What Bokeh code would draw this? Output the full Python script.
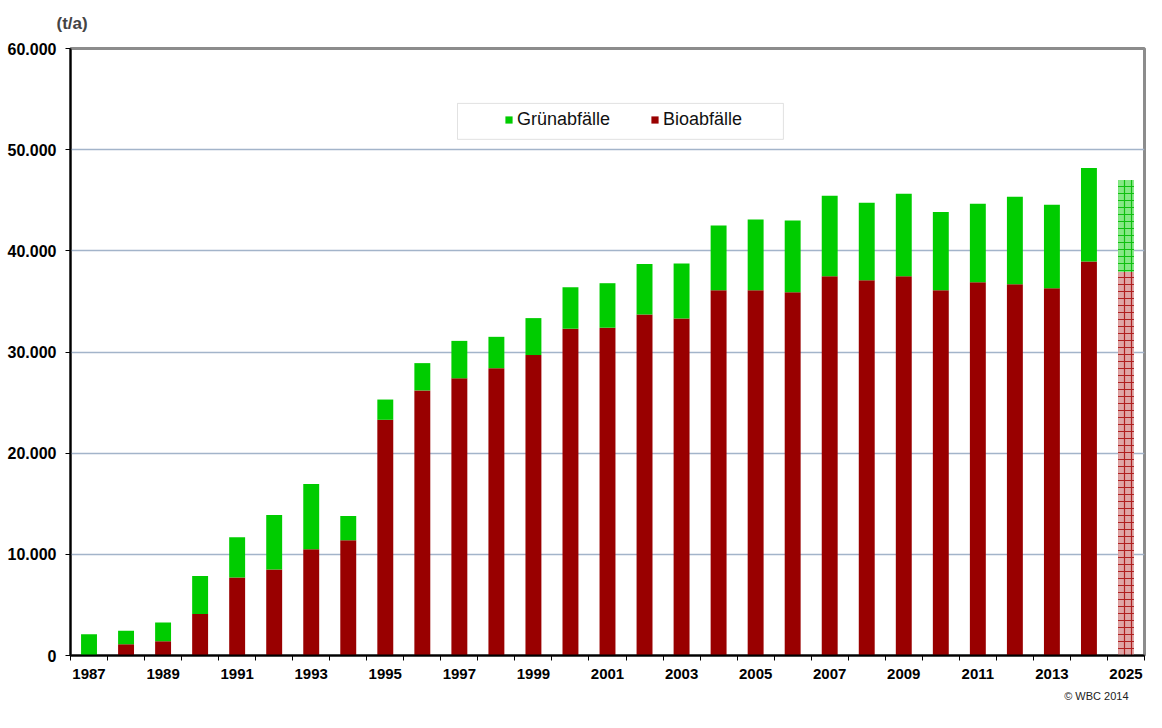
import numpy as np
from bokeh.plotting import figure
from bokeh.models import (ColumnDataSource, FixedTicker, CustomJSTickFormatter, Legend,
                          LegendItem, BoxAnnotation, Range1d, Title)
from bokeh.embed import file_html
from bokeh.resources import INLINE

# ---- data -------------------------------------------------------------
years = ["1987", "1988", "1989", "1990", "1991", "1992", "1993", "1994", "1995", "1996",
         "1997", "1998", "1999", "2000", "2001", "2002", "2003", "2004", "2005", "2006",
         "2007", "2008", "2009", "2010", "2011", "2012", "2013", "2014", "2025"]
bio = [0, 1100, 1400, 4100, 7700, 8500, 10500, 11400, 23300, 26200,
       27400, 28400, 29700, 32300, 32400, 33700, 33300, 36100, 36100, 35900,
       37500, 37100, 37500, 36100, 36900, 36700, 36300, 38950, 37900]
gruen = [2100, 1350, 1850, 3750, 4000, 5400, 6450, 2400, 2000, 2700,
         3700, 3100, 3650, 4100, 4400, 5000, 5450, 6400, 7000, 7100,
         7950, 7650, 8150, 7750, 7750, 8650, 8250, 9250, 9100]
projection_years = ["2025"]
labeled_years = ["1987", "1989", "1991", "1993", "1995", "1997", "1999", "2001", "2003",
                 "2005", "2007", "2009", "2011", "2013", "2025"]
y_ticks = [0, 10000, 20000, 30000, 40000, 50000, 60000]
grid_ticks = [10000, 20000, 30000, 40000, 50000]

FONT = "Liberation Sans"
GREEN = "#00cc00"
RED = "#990000"

n = len(years)
xc = np.arange(n) + 0.5
bio_a = np.array(bio, dtype=float)
tot_a = bio_a + np.array(gruen, dtype=float)
proj = [y in projection_years for y in years]

src = ColumnDataSource(dict(
    x=xc, bio=bio_a, total=tot_a,
    bio_fill=["#dfa6a6" if p else RED for p in proj],
    bio_hatch=["+" if p else " " for p in proj],
    bio_hcol=["#b02020" if p else RED for p in proj],
    gr_fill=["#86e886" if p else GREEN for p in proj],
    gr_hatch=["+" if p else " " for p in proj],
    gr_hcol=["#10c010" if p else GREEN for p in proj],
))

p = figure(width=1146, height=712, x_range=Range1d(0, n), y_range=Range1d(0, 60000),
           output_backend="svg", toolbar_location=None,
           min_border_left=70, min_border_right=2, min_border_top=48, min_border_bottom=57)

p.title = Title(text="(t/a)", text_font=FONT, text_font_style="bold",
                text_font_size="17px", align="left", offset=-14, standoff=27,
                vertical_align="top")
p.add_layout(Title(text="© WBC 2014", text_font=FONT, text_font_style="normal",
                   text_font_size="11px", align="right", offset=16, standoff=12,
                   text_color="#222222"), "below")

p.outline_line_color = "#8c8c8c"
p.outline_line_width = 3

rb = p.vbar(x="x", bottom=0, top="bio", width=0.43, source=src,
            fill_color="bio_fill", line_color=None,
            hatch_pattern="bio_hatch", hatch_color="bio_hcol", hatch_scale=7, hatch_weight=1.2)
rg = p.vbar(x="x", bottom="bio", top="total", width=0.43, source=src,
            fill_color="gr_fill", line_color=None,
            hatch_pattern="gr_hatch", hatch_color="gr_hcol", hatch_scale=7, hatch_weight=1.2)

# axes
p.yaxis.ticker = FixedTicker(ticks=y_ticks)
p.yaxis.formatter = CustomJSTickFormatter(
    code="return tick == 0 ? '0' : (tick/1000).toFixed(0) + '.000';")
p.yaxis.major_label_text_font = FONT
p.yaxis.major_label_text_font_style = "bold"
p.yaxis.major_label_text_font_size = "16px"
p.yaxis.major_label_text_color = "black"
p.yaxis.major_tick_out = 5
p.yaxis.major_tick_in = 0
p.yaxis.minor_tick_out = 0
p.yaxis.minor_tick_in = 0
p.yaxis.major_label_standoff = 9
p.yaxis.axis_line_color = "black"
p.yaxis.axis_line_width = 2
p.yaxis.major_tick_line_color = "black"

lab_pos = [float(xc[years.index(y)]) for y in labeled_years]
p.xaxis.ticker = FixedTicker(ticks=lab_pos, minor_ticks=list(range(n + 1)))
p.xaxis.major_label_overrides = {pos: y for pos, y in zip(lab_pos, labeled_years)}
p.xaxis.major_label_text_font = FONT
p.xaxis.major_label_text_font_style = "bold"
p.xaxis.major_label_text_font_size = "15px"
p.xaxis.major_label_text_color = "black"
p.xaxis.major_tick_out = 0
p.xaxis.major_tick_in = 0
p.xaxis.minor_tick_out = 5
p.xaxis.minor_tick_in = 0
p.xaxis.minor_tick_line_color = "black"
p.xaxis.major_label_standoff = 8
p.xaxis.axis_line_color = "black"
p.xaxis.axis_line_width = 2

p.xgrid.grid_line_color = None
p.ygrid.ticker = FixedTicker(ticks=grid_ticks)
p.ygrid.grid_line_color = "#a3b4ca"
p.ygrid.grid_line_width = 1.5

# legend
box = BoxAnnotation(left=10.45, right=19.25, bottom=51020, top=54570,
                    fill_color=None, fill_alpha=0, line_color="#a0a0a0", line_width=1)
p.add_layout(box)
legend = Legend(items=[LegendItem(label="Grünabfälle", renderers=[rg], index=0),
                       LegendItem(label="Bioabfälle", renderers=[rb], index=0)],
                orientation="horizontal", location=(434, 525),
                border_line_alpha=0, background_fill_alpha=0, padding=0, margin=0,
                spacing=40, glyph_width=9, glyph_height=9, label_standoff=4,
                label_height=20, label_text_font=FONT, label_text_font_size="18px",
                label_text_color="#111111")
p.add_layout(legend)

open("out.html", "w").write(file_html(p, INLINE))
